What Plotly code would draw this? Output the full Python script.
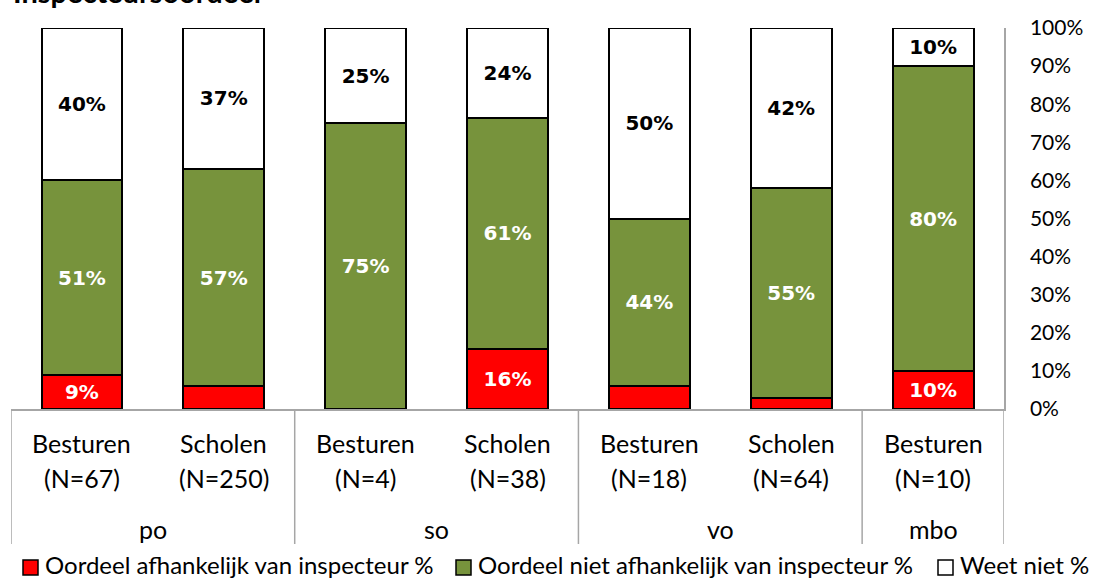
import plotly.graph_objects as go

# ---- data ----
types = ["Besturen", "Scholen", "Besturen", "Scholen", "Besturen", "Scholen", "Besturen"]
n_values = [67, 250, 4, 38, 18, 64, 10]
groups = ["po", "po", "so", "so", "vo", "vo", "mbo"]
afhankelijk = [9, 6, 0, 15.8, 6, 3, 10]
niet_afhankelijk = [51, 57, 75, 60.6, 44, 55, 80]
weet_niet = [40, 37, 25, 23.6, 50, 42, 10]
series_names = [
    "Oordeel afhankelijk van inspecteur %",
    "Oordeel niet afhankelijk van inspecteur %",
    "Weet niet %",
]
series_colors = ["#FF0000", "#77933C", "#FFFFFF"]
label_colors = ["white", "white", "black"]
y_ticks = list(range(0, 101, 10))
y_tick_labels = [f"{v}%" for v in y_ticks]
title_text = "Inspecteursoordeel"

categories = [f"{t} (N={n})" for t, n in zip(types, n_values)]

W, H = 1093, 579
L, R, T, B = 11, 89, 28, 170
plot_w = W - L - R
plot_h = H - T - B

LABEL_FONT = "Lato"
BAR_FONT = "DejaVu Sans"


def labels(vals):
    return [f"{v:.0f}%" if v >= 8 else "" for v in vals]


def px_x(pix):
    return (pix - L) / plot_w


def px_y(pix):
    return (H - B - pix) / plot_h


fig = go.Figure()
for vals, color, tcolor, name in zip([afhankelijk, niet_afhankelijk, weet_niet],
                                     series_colors, label_colors, series_names):
    fig.add_trace(go.Bar(
        x=categories, y=vals, name=name,
        marker=dict(color=color, line=dict(color="black", width=2)),
        text=labels(vals), textposition="inside", insidetextanchor="middle",
        textangle=0,
        textfont=dict(family=BAR_FONT, size=20, color=tcolor, weight="bold"),
        width=0.57, hoverinfo="skip", showlegend=False,
    ))

annotations = []
shapes = []
lab_font = dict(family=LABEL_FONT, size=25, color="black")
leg_font = dict(family=LABEL_FONT, size=24, color="black")

# category labels (two lines)
for i, (t, n) in enumerate(zip(types, n_values)):
    annotations.append(dict(x=i, y=px_y(443), xref="x", yref="paper", text=t,
                            showarrow=False, yanchor="middle", font=lab_font))
    annotations.append(dict(x=i, y=px_y(478), xref="x", yref="paper", text=f"(N={n})",
                            showarrow=False, yanchor="middle", font=lab_font))

# group labels and dividers
group_order = []
for i, g in enumerate(groups):
    if not group_order or group_order[-1][0] != g:
        group_order.append([g, i, i])
    else:
        group_order[-1][2] = i
bounds = [-0.5]
for g, s, e in group_order:
    annotations.append(dict(x=(s + e) / 2, y=px_y(529), xref="x", yref="paper", text=g,
                            showarrow=False, yanchor="middle", font=lab_font))
    bounds.append(e + 0.5)
for b in bounds:
    shapes.append(dict(type="line", xref="x", yref="paper", x0=b, x1=b,
                       y0=0, y1=px_y(544), line=dict(color="#A6A6A6", width=1.5)))

# legend (square + text per series)
legend_starts = [23, 456, 938]
for x0, color, name in zip(legend_starts, series_colors, series_names):
    shapes.append(dict(type="rect", xref="paper", yref="paper",
                       x0=px_x(x0), x1=px_x(x0 + 15), y0=px_y(575), y1=px_y(560),
                       fillcolor=color, line=dict(color="black", width=1.5)))
    annotations.append(dict(x=px_x(x0 + 20), y=px_y(564), xref="paper", yref="paper",
                            xanchor="left", yanchor="middle", text=name,
                            showarrow=False, font=leg_font))

# title (clipped at the top edge as in the reference)
annotations.append(dict(x=0, xref="paper", xanchor="left",
                        y=px_y(11), yref="paper", yanchor="bottom",
                        text=f"<b>{title_text}</b>", showarrow=False,
                        font=dict(family=LABEL_FONT, size=29, color="black")))

fig.update_layout(
    width=W, height=H,
    margin=dict(l=L, r=R, t=T, b=B, pad=0, autoexpand=False),
    barmode="stack",
    plot_bgcolor="white", paper_bgcolor="white",
    showlegend=False,
    xaxis=dict(type="category", range=[-0.5, 6.5], showticklabels=False,
               showline=True, linecolor="#A6A6A6", linewidth=1.5,
               showgrid=False, zeroline=False, ticks="", automargin=False),
    yaxis=dict(side="right", range=[0, 100], tickmode="array",
               tickvals=y_ticks, ticktext=y_tick_labels,
               showline=True, linecolor="#A6A6A6", linewidth=1.5,
               showgrid=False, zeroline=False, ticks="", automargin=False,
               ticklabelstandoff=20,
               tickfont=dict(family=LABEL_FONT, size=21, color="black")),
    annotations=annotations,
    shapes=shapes,
)

fig.write_html(
    "out.html",
    config={"displayModeBar": False},
    post_script="document.body.style.margin='0';document.body.style.overflow='hidden';",
)
